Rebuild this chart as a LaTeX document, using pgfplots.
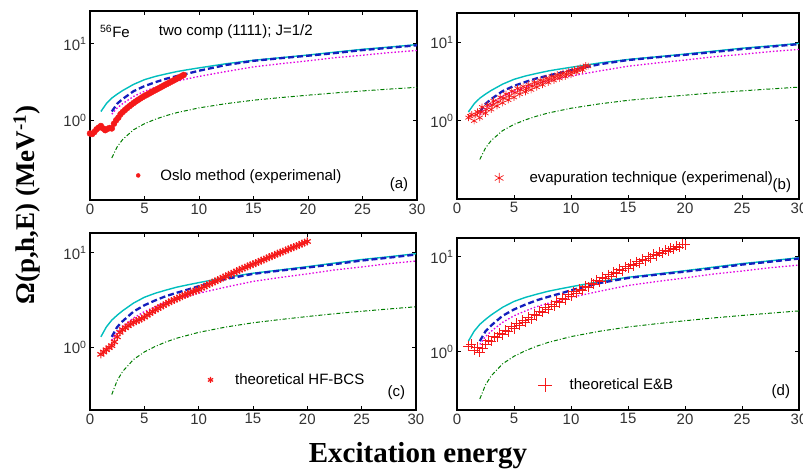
\documentclass[border=0pt]{standalone}
\usepackage{pgfplots}
\pgfplotsset{compat=1.18}
\usepackage{pgfplotstable}
\usepackage{fontspec}
\setmainfont{Liberation Serif}
\newfontfamily\arial{Liberation Sans}

\definecolor{mcyan}{RGB}{0,190,190}
\definecolor{mblue}{RGB}{20,30,190}
\definecolor{mmag}{RGB}{225,0,225}
\definecolor{mgreen}{RGB}{0,125,0}
\definecolor{mred}{RGB}{245,25,25}

% theoretical curves, same in every panel
\pgfplotstableread{
x y
1 1.3
1.5 1.65
2 1.95
2.5 2.2
3 2.45
4 2.95
5 3.4
6 3.75
7 4.05
8 4.35
9 4.6
10 4.85
12.5 5.5
15 6.1
17.5 6.6
20 7.15
22.5 7.8
25 8.5
27.5 9.1
30 9.8
}\cyancurve
\pgfplotstableread{
x y
2 1.3
2.5 1.65
3 1.9
4 2.4
5 2.8
6 3.15
7 3.5
8 3.8
9 4.1
10 4.45
12.5 5.3
15 6.0
17.5 6.5
20 7.0
22.5 7.6
25 8.3
27.5 8.9
30 9.6
}\bluecurve
\pgfplotstableread{
x y
2 1.2
2.5 1.45
3 1.65
4 2.05
5 2.4
6 2.7
7 3.0
8 3.25
9 3.5
10 3.75
12.5 4.35
15 5.0
17.5 5.5
20 6.0
22.5 6.6
25 7.1
27.5 7.7
30 8.2
}\magcurve
\pgfplotstableread{
x y
2 0.32
2.5 0.45
3 0.56
4 0.75
5 0.9
6 1.03
7 1.15
8 1.26
10 1.45
12.5 1.65
15 1.83
17.5 1.98
20 2.13
22.5 2.28
25 2.42
27.5 2.56
30 2.7
}\greencurve

% red data
\pgfplotstableread{
x y
0.0 0.67
0.2 0.66
0.4 0.70
0.6 0.76
0.8 0.80
1.0 0.84
1.2 0.78
1.4 0.74
1.6 0.77
1.8 0.79
2.0 0.78
2.2 0.90
2.4 1.00
2.6 1.08
2.8 1.20
3.0 1.28
3.2 1.36
3.4 1.44
3.6 1.52
3.8 1.60
4.0 1.68
4.2 1.76
4.4 1.84
4.6 1.92
4.8 2.00
5.0 2.08
5.2 2.15
5.4 2.23
5.6 2.31
5.8 2.40
6.0 2.48
6.2 2.57
6.4 2.66
6.6 2.76
6.8 2.86
7.0 2.96
7.2 3.06
7.4 3.17
7.6 3.28
7.8 3.40
8.0 3.52
8.2 3.65
8.4 3.78
8.6 3.92
}\oslo
\pgfplotstableread{
x y
1.0 1.1
1.15 1.15
1.3 1.2
1.5 1.0
1.65 1.2
1.8 1.3
2.0 1.1
2.1 1.3
2.2 1.5
2.5 1.25
2.6 1.4
2.7 1.6
3.0 1.4
3.1 1.6
3.2 1.8
3.5 1.55
3.6 1.75
3.8 2.0
4.0 1.7
4.1 1.95
4.3 2.2
4.5 1.85
4.6 2.1
4.8 2.4
5.0 2.0
5.1 2.3
5.3 2.6
5.5 2.2
5.6 2.5
5.8 2.75
6.0 2.35
6.1 2.6
6.3 2.9
6.5 2.5
6.6 2.8
6.8 3.1
7.0 2.7
7.1 3.0
7.3 3.3
7.5 2.9
7.6 3.2
7.8 3.5
8.0 3.1
8.1 3.4
8.3 3.7
8.5 3.3
8.6 3.6
8.8 3.9
9.0 3.5
9.1 3.8
9.3 4.1
9.5 3.7
9.6 4.0
9.8 4.3
10.0 3.9
10.1 4.2
10.3 4.5
10.5 4.2
10.6 4.5
10.8 4.8
11.0 4.5
11.1 4.8
11.3 5.1
11.5 5.0
}\evap
\pgfplotstableread{
x y
1.0 0.85
1.25 0.9
1.5 0.95
1.75 1.0
2.0 1.05
2.25 1.15
2.5 1.3
2.75 1.45
3.0 1.55
3.25 1.62
3.5 1.7
3.75 1.78
4.0 1.85
4.25 1.91
4.5 1.97
4.75 2.03
5.0 2.1
5.25 2.2
5.5 2.3
5.75 2.4
6.0 2.5
6.25 2.6
6.5 2.7
6.75 2.8
7.0 2.9
7.25 3.0
7.5 3.1
7.75 3.2
8.0 3.3
8.25 3.4
8.5 3.5
8.75 3.6
9.0 3.7
9.25 3.8
9.5 3.9
9.75 4.0
10.0 4.1
10.25 4.25
10.5 4.4
10.75 4.55
11.0 4.7
11.25 4.85
11.5 5.0
11.75 5.15
12.0 5.3
12.25 5.5
12.5 5.65
12.75 5.85
13.0 6.0
13.25 6.2
13.5 6.4
13.75 6.6
14.0 6.8
14.25 7.0
14.5 7.2
14.75 7.4
15.0 7.6
15.25 7.8
15.5 8.05
15.75 8.3
16.0 8.5
16.25 8.75
16.5 9.0
16.75 9.25
17.0 9.5
17.25 9.8
17.5 10.05
17.75 10.3
18.0 10.6
18.25 10.9
18.5 11.2
18.75 11.5
19.0 11.8
19.25 12.15
19.5 12.5
19.75 12.85
20.0 13.2
}\hfbcs
\pgfplotstableread{
x y
1.0 1.15
1.25 1.2
1.5 1.05
1.75 1.12
2.0 1.0
2.25 1.1
2.5 1.2
2.75 1.32
3.0 1.3
3.25 1.45
3.5 1.42
3.75 1.58
4.0 1.52
4.25 1.7
4.5 1.64
4.75 1.85
5.0 1.76
5.25 2.0
5.5 1.9
5.75 2.15
6.0 2.06
6.25 2.32
6.5 2.22
6.75 2.5
7.0 2.4
7.25 2.7
7.5 2.6
7.75 2.92
8.0 2.8
8.25 3.15
8.5 3.05
8.75 3.4
9.0 3.3
9.25 3.7
9.5 3.55
9.75 4.0
10.0 3.85
10.25 4.3
10.5 4.15
10.75 4.6
11.0 4.45
11.25 4.95
11.5 4.8
11.75 5.3
12.0 5.15
12.25 5.7
12.5 5.5
12.75 6.1
13.0 5.9
13.25 6.5
13.5 6.3
13.75 6.95
14.0 6.7
14.25 7.4
14.5 7.15
14.75 7.9
15.0 7.6
15.25 8.4
15.5 8.1
15.75 8.9
16.0 8.6
16.25 9.45
16.5 9.15
16.75 10.0
17.0 9.7
17.25 10.6
17.5 10.3
17.75 11.2
18.0 10.9
18.25 11.8
18.5 11.5
18.75 12.4
19.0 12.1
19.25 13.0
19.5 12.7
19.75 13.6
20.0 13.4
}\eb

\newcommand{\tickfont}{\arial\fontsize{15}{15}\selectfont}
\newcommand{\txtfont}{\arial\fontsize{15}{15}\selectfont}

\pgfplotsset{
  fepanel/.style={
    scale only axis,
    xmin=0, xmax=30,
    xtick={0,5,10,15,20,25,30},
    ytick={1,10}, yticklabels={10\textsuperscript{0},10\textsuperscript{1}},
    yminorticks=false,
    tick align=inside, major tick length=4pt,
    axis line style={line width=1.6pt},
    every tick/.style={black, line width=1pt},
    tick label style={font=\tickfont, text=black!80},
    xticklabel style={/pgf/number format/assume math mode=true},
    legend style={draw=none, fill=none, font=\txtfont, anchor=west, inner sep=0pt},
    legend cell align=left,
  },
  legimg/.style={legend image code/.code={%
    \path (-4pt,0pt) (#1,0pt);
    \draw[##1] plot coordinates {(0pt,0pt)};}},
}

\newcommand{\theory}{%
  \addplot[mcyan, line width=1.4pt, forget plot] table {\cyancurve};
  \addplot[mmag, line width=1.3pt, dash pattern=on 1.5pt off 2pt, forget plot] table {\magcurve};
  \addplot[mblue, line width=2.3pt, dash pattern=on 6pt off 3pt, forget plot] table {\bluecurve};
  \addplot[mgreen, line width=1pt, dash pattern=on 4pt off 2pt on 1pt off 2pt, forget plot] table {\greencurve};
}

\begin{document}
\begin{tikzpicture}
% (a)
\begin{semilogyaxis}[fepanel, at={(90pt,271pt)}, anchor=south west, width=327pt, height=189pt,
  ymin=0.09, ymax=27, legimg=20pt, legend style={at={(rel axis cs:0.134,0.13)}}]
\theory
\addplot[mred, only marks, mark=*, mark size=3pt,
  legend image post style={mred, mark size=2pt}] table {\oslo};
\addlegendentry{Oslo method (experimenal)}
\node[font=\txtfont, anchor=west] at (rel axis cs:0.02,0.89) {\textsuperscript{56}Fe};
\node[font=\txtfont, anchor=west] at (rel axis cs:0.2,0.89) {two comp (1111); J=1/2};
\node[font=\txtfont] at (rel axis cs:0.945,0.08) {(a)};
\end{semilogyaxis}
% (b)
\begin{semilogyaxis}[fepanel, at={(457pt,272pt)}, anchor=south west, width=342pt, height=186pt,
  ymin=0.1, ymax=24, legimg=28pt, legend style={at={(rel axis cs:0.11,0.113)}}]
\theory
\addplot[mred, only marks, mark=asterisk, mark size=3.5pt, line width=0.7pt,
  legend image post style={mred, mark size=5pt}] table {\evap};
\addlegendentry{evapuration technique (experimenal)}
\node[font=\txtfont] at (rel axis cs:0.95,0.07) {(b)};
\end{semilogyaxis}
% (c)
\begin{semilogyaxis}[fepanel, at={(90pt,61pt)}, anchor=south west, width=326pt, height=177pt,
  ymin=0.22, ymax=16.2, legimg=22pt, legend style={at={(rel axis cs:0.355,0.17)}}]
\theory
\addplot[mred, only marks, mark=asterisk, mark size=4pt, line width=1.2pt,
  legend image post style={mred, mark size=3pt}] table {\hfbcs};
\addlegendentry{theoretical HF-BCS}
\node[font=\txtfont] at (rel axis cs:0.94,0.096) {(c)};
\end{semilogyaxis}
% (d)
\begin{semilogyaxis}[fepanel, at={(457pt,61pt)}, anchor=south west, width=342pt, height=172pt,
  ymin=0.245, ymax=15.8, legimg=22pt,
  legend style={at={(rel axis cs:0.237,0.145)}, text=mred}]
\theory
\addplot[mred, only marks, mark=+, mark size=5pt, line width=0.8pt,
  legend image post style={mred, mark size=7pt}] table {\eb};
\addlegendentry{\textcolor{black}{theoretical E\&B}}
\node[font=\txtfont] at (rel axis cs:0.947,0.105) {(d)};
\end{semilogyaxis}
\node[rotate=90, font=\bfseries\fontsize{27}{27}\selectfont] at (27pt,266pt) {Ω(p,h,E) (MeV\textsuperscript{-1})};
\node[font=\bfseries\fontsize{29}{29}\selectfont, anchor=base] at (418pt,9pt) {Excitation energy};
\pgfresetboundingbox
\path (0,0) rectangle (803pt,471pt);
\end{tikzpicture}
\end{document}
